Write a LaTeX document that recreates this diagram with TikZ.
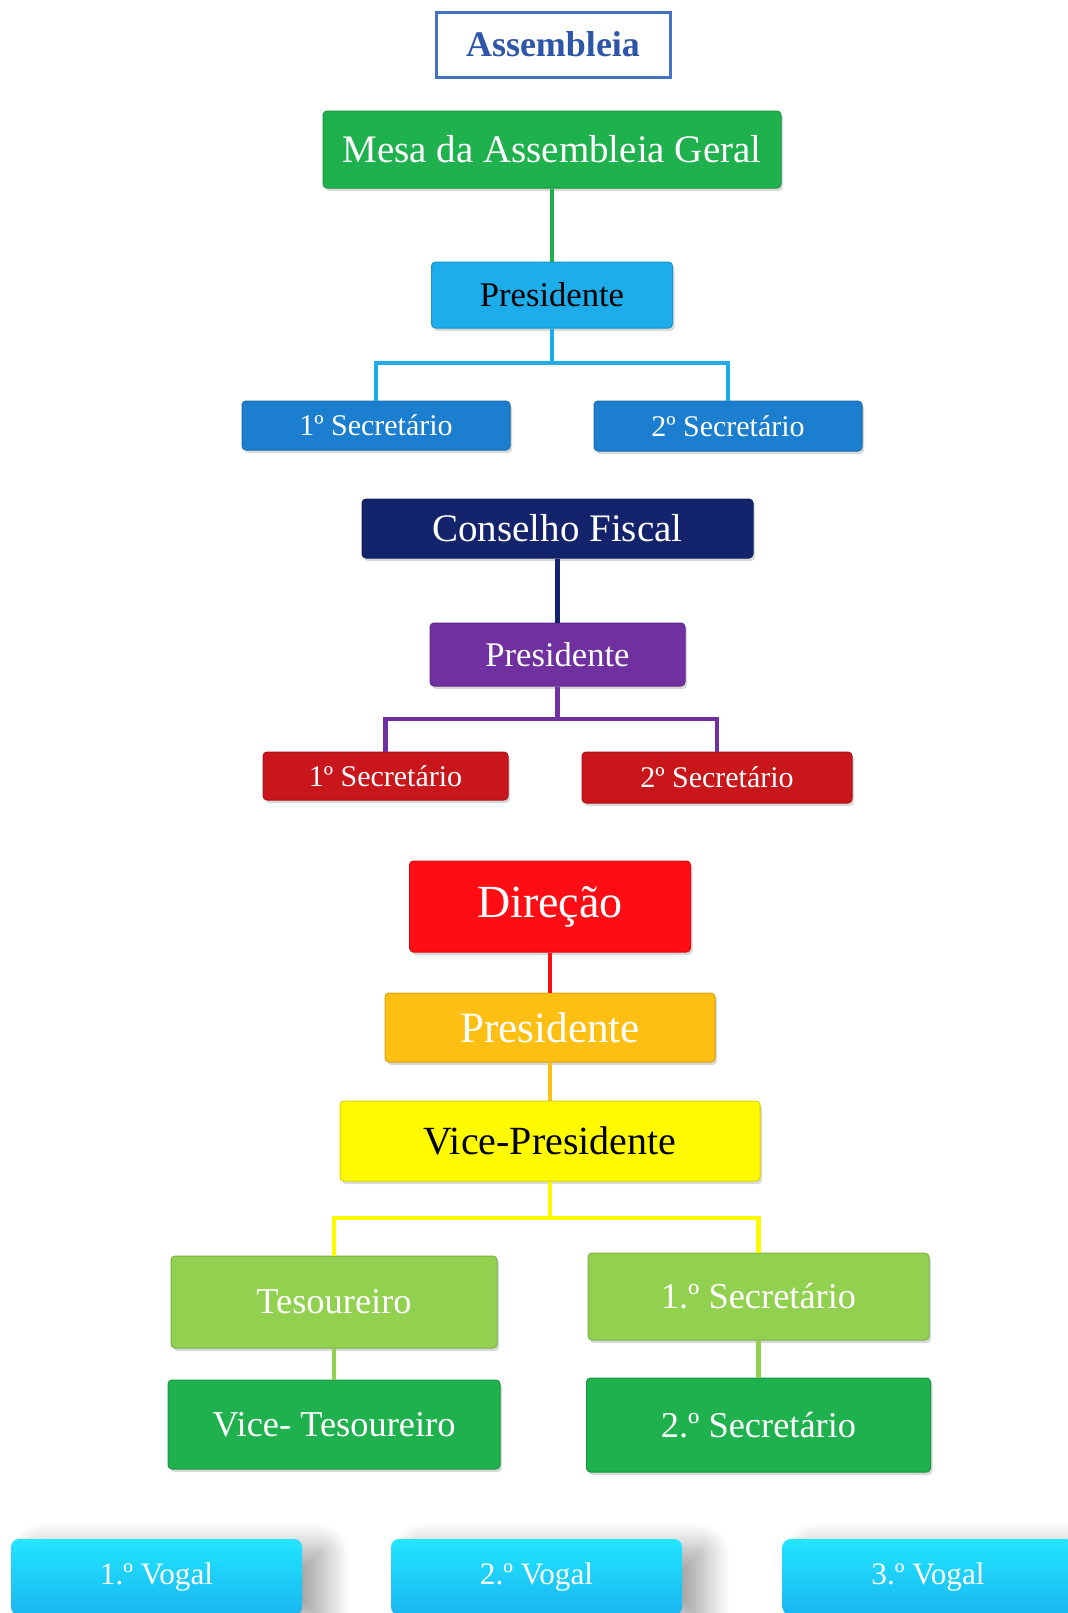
\documentclass[tikz,border=0pt]{standalone}
\usepackage{fontspec}
\setmainfont{Liberation Serif}
\usetikzlibrary{shadows,shadows.blur}

\definecolor{abord}{HTML}{4472C4}
\definecolor{atext}{HTML}{2E56A8}
\definecolor{mgreen}{HTML}{1FB14D}
\definecolor{lblue}{HTML}{1DADEB}
\definecolor{sblue}{HTML}{1C7ECF}
\definecolor{navy}{HTML}{13246C}
\definecolor{purp}{HTML}{7030A0}
\definecolor{dred}{HTML}{C8161B}
\definecolor{bred}{HTML}{FF0D14}
\definecolor{amber}{HTML}{FCBF12}
\definecolor{yel}{HTML}{FFFA00}
\definecolor{lgreen}{HTML}{92D050}
\definecolor{cyantop}{HTML}{22E6FF}
\definecolor{cyanbot}{HTML}{19B6F0}

\begin{document}
\begin{tikzpicture}[x=0.5pt, y=-0.5pt,
	orgbox/.style={fill=#1, draw=#1!85!black, line width=0.5pt, rounded corners=2pt, inner sep=0pt,
		drop shadow={opacity=0.3, shadow xshift=1pt, shadow yshift=-1.5pt}},
	fs/.style={font=\fontsize{#1}{#1}\selectfont},
	link/.style={draw=#1, line width=2.4pt},
	vogal/.style={top color=cyantop, bottom color=cyanbot, draw=none, rounded corners=4pt, inner sep=0pt,
		minimum width=145.5pt, minimum height=38pt, text=white, fs=15.6pt,
		blur shadow={shadow xshift=12pt, shadow yshift=-4pt, shadow blur radius=12pt, shadow blur steps=12, shadow opacity=35}}]
	\useasboundingbox (0,0) rectangle (1067,1613);
	
	% Assembleia
	\node[draw=abord, line width=1.5pt, fill=white, inner sep=0pt, minimum width=117pt, minimum height=32.5pt,
		text=atext, font=\bfseries\fontsize{18pt}{18pt}\selectfont] (ass) at (553,44.5) {Assembleia};
	\node[orgbox=mgreen, minimum width=229pt, minimum height=38.5pt, text=white, fs=19.5pt] (mesa) at (552,149.5) {Mesa da Assembleia Geral};
	\node[orgbox=lblue, minimum width=120.5pt, minimum height=33pt, text=black, fs=17.3pt] (p1) at (552,295) {Presidente};
	\node[orgbox=sblue, minimum width=134pt, minimum height=24.5pt, text=white, fs=15pt] (s11) at (376,425.5) {1º Secretário};
	\node[orgbox=sblue, minimum width=134pt, minimum height=25pt, text=white, fs=15pt] (s12) at (728,426) {2º Secretário};
	\coordinate (j1) at (552,363);
	
	\draw[link=mgreen] (mesa) -- (p1);
	\draw[link=lblue] (p1) -- (j1) -| (s11) (j1) -| (s12);
	
	% Conselho Fiscal
	\node[orgbox=navy, minimum width=195.5pt, minimum height=29.5pt, text=white, fs=19.5pt] (cf) at (557.5,528.5) {Conselho Fiscal};
	\node[orgbox=purp, minimum width=127.5pt, minimum height=31.5pt, text=white, fs=17.3pt] (p2) at (557.5,654.5) {Presidente};
	\node[orgbox=dred, minimum width=122.5pt, minimum height=24pt, text=white, fs=15pt] (s21) at (385.5,776) {1º Secretário};
	\node[orgbox=dred, minimum width=135pt, minimum height=25.5pt, text=white, fs=15pt] (s22) at (717,777.5) {2º Secretário};
	\coordinate (j2) at (557.5,719);
	
	\draw[link=navy] (cf) -- (p2);
	\draw[link=purp] (p2) -- (j2) -| (s21) (j2) -| (s22);
	
	% Direcao
	\node[orgbox=bred, minimum width=140.5pt, minimum height=45.5pt, text=white, fs=23pt] (dir) at (550,906.5) {Direção};
	\node[orgbox=amber, minimum width=165pt, minimum height=34.5pt, text=white, fs=21.6pt] (p3) at (550,1027.5) {Presidente};
	\node[orgbox=yel, minimum width=210pt, minimum height=40pt, text=black, fs=20pt] (vp) at (550,1141) {Vice-Presidente};
	\node[orgbox=lgreen, minimum width=163pt, minimum height=46pt, text=white, fs=18.2pt] (tes) at (334,1302) {Tesoureiro};
	\node[orgbox=lgreen, minimum width=170.5pt, minimum height=43.5pt, text=white, fs=18.2pt] (sec1) at (758.5,1296.5) {1.º Secretário};
	\node[orgbox=mgreen, minimum width=166pt, minimum height=44.5pt, text=white, fs=18.2pt] (vtes) at (334,1424.5) {Vice- Tesoureiro};
	\node[orgbox=mgreen, minimum width=172pt, minimum height=47pt, text=white, fs=18.2pt] (sec2) at (758.5,1425) {2.º Secretário};
	\coordinate (j3) at (550,1218);
	
	\draw[link=bred] (dir) -- (p3);
	\draw[link=amber] (p3) -- (vp);
	\draw[link=yel] (vp) -- (j3) -| (tes) (j3) -| (sec1);
	\draw[link=lgreen] (tes) -- (vtes);
	\draw[link=lgreen] (sec1) -- (sec2);
	
	% Vogais
	\node[vogal] (v1) at (156.5,1577) {1.º Vogal};
	\node[vogal] (v2) at (536.5,1577) {2.º Vogal};
	\node[vogal] (v3) at (928,1577) {3.º Vogal};
\end{tikzpicture}
\end{document}
